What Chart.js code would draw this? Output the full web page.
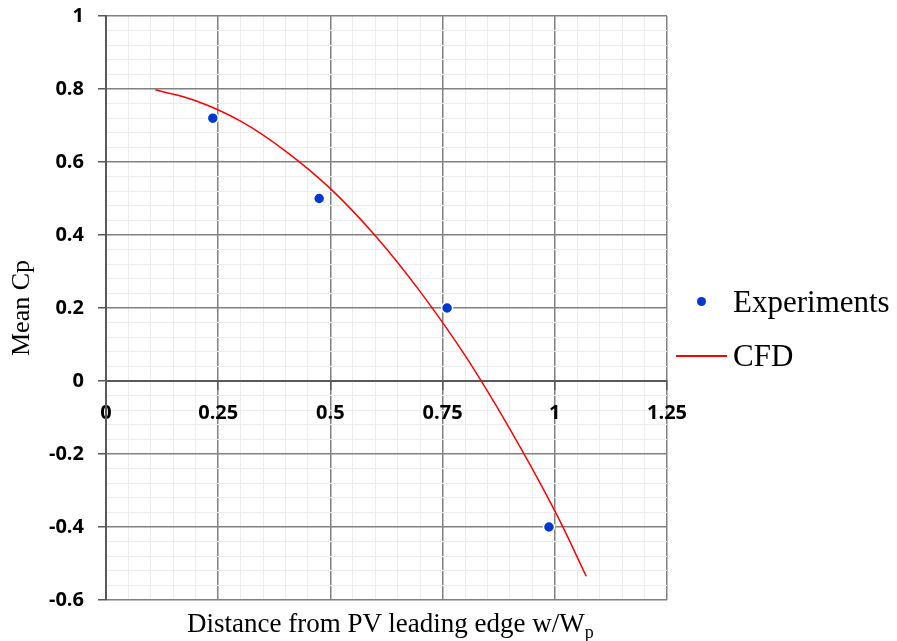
<!DOCTYPE html>
<html>
<head>
<meta charset="utf-8">
<script src="https://cdn.jsdelivr.net/npm/chart.js@4"></script>
<style>
body{margin:0;background:#fff}
#wrap{position:relative;width:897px;height:641px}
canvas{position:absolute;left:0;top:0}
.serif{font-family:"Liberation Serif","Times New Roman",serif;color:#000;position:absolute;white-space:nowrap}
#xtitle{left:187px;top:610px;font-size:27px;line-height:27px}
#xtitle sub{font-size:18px;vertical-align:-6px;line-height:0}
.leg{left:733px;font-size:31px;line-height:31px}
#dot{position:absolute;left:697px;top:297px;width:9px;height:9px;border-radius:50%;background:#0038d0}
#cfdline{position:absolute;left:676px;top:355px;width:51px;height:2px;background:#ff0000}
</style>
</head>
<body>
<div id="wrap">
<canvas id="chart" width="897" height="641"></canvas>
<div id="dot"></div>
<div class="serif leg" style="top:286px">Experiments</div>
<div id="cfdline"></div>
<div class="serif leg" style="top:340px">CFD</div>
<div class="serif" id="xtitle">Distance from PV leading edge w/W<sub>p</sub></div>
</div>
<script>

// experiments (blue dots)
const expX=[0.238,0.475,0.76,0.987]
const expY=[0.72,0.50,0.20,-0.40]

// CFD curve (red line)
const cfdX=[0.11,0.2,0.3,0.4,0.5,0.6,0.7,0.8,0.9,1.0,1.07]
const cfdY=[0.798,0.768,0.712,0.63,0.527,0.398,0.245,0.07,-0.132,-0.356,-0.535]

// axes
const xMin=0, xMax=1.25, xMajor=0.25, xMinor=0.05
const yMin=-0.6, yMax=1, yMajor=0.2, yMinor=0.04

const majorCol="#808080"
const minorCol="#ececec"
const axisCol="#595959"

function isMajor(v,step){
    const r=v/step
    return Math.abs(r-Math.round(r))<1e-6
}

function fmt(v){
    return String(Number(v.toFixed(2)))
}

const tickFont={family:"'Open Sans', sans-serif",size:20,weight:"bold"}

new Chart(document.getElementById("chart"),{
    type:"scatter",
    data:{
        datasets:[
            {
                label:"Experiments",
                data:expX.map((x,i)=>({x:x,y:expY[i]})),
                backgroundColor:"#0038d0",
                borderColor:"#ffffff",
                borderWidth:1.5,
                pointRadius:5.5,
                showLine:false,
                order:1
            },
            {
                label:"CFD",
                data:cfdX.map((x,i)=>({x:x,y:cfdY[i]})),
                borderColor:"#ff0000",
                borderWidth:1.5,
                pointRadius:0,
                showLine:true,
                tension:0.4,
                order:2
            }
        ]
    },
    options:{
        responsive:false,
        animation:false,
        layout:{padding:{left:0,top:16,right:230,bottom:41}},
        plugins:{
            legend:{display:false},
            tooltip:{enabled:false}
        },
        scales:{
            x:{
                type:"linear",
                min:xMin,
                max:xMax,
                position:{y:0},
                border:{color:axisCol,width:2},
                grid:{
                    color:c=>isMajor(c.tick.value,xMajor)?majorCol:minorCol,
                    tickColor:c=>isMajor(c.tick.value,xMajor)?axisCol:"rgba(0,0,0,0)",
                    tickLength:8,
                    lineWidth:c=>isMajor(c.tick.value,xMajor)?1.5:1
                },
                ticks:{
                    stepSize:xMinor,
                    autoSkip:false,
                    maxRotation:0,
                    padding:12,
                    color:"#000",
                    font:tickFont,
                    callback:v=>isMajor(v,xMajor)?fmt(v):""
                }
            },
            y:{
                type:"linear",
                min:yMin,
                max:yMax,
                border:{color:axisCol,width:2},
                afterFit:s=>{
                    s.width=106
                    s.paddingTop=0
                    s.paddingBottom=0
                },
                grid:{
                    color:c=>isMajor(c.tick.value,yMajor)?majorCol:minorCol,
                    tickColor:c=>isMajor(c.tick.value,yMajor)?axisCol:"rgba(0,0,0,0)",
                    tickLength:8,
                    lineWidth:c=>isMajor(c.tick.value,yMajor)?1.5:1
                },
                ticks:{
                    stepSize:yMinor,
                    autoSkip:false,
                    padding:14,
                    color:"#000",
                    font:tickFont,
                    callback:v=>isMajor(v,yMajor)?fmt(v):""
                },
                title:{
                    display:true,
                    text:"Mean Cp",
                    color:"#000",
                    font:{family:"'Liberation Serif', 'Times New Roman', serif",size:26},
                    padding:{top:7,bottom:0}
                }
            }
        }
    }
})

</script>
</body>
</html>
